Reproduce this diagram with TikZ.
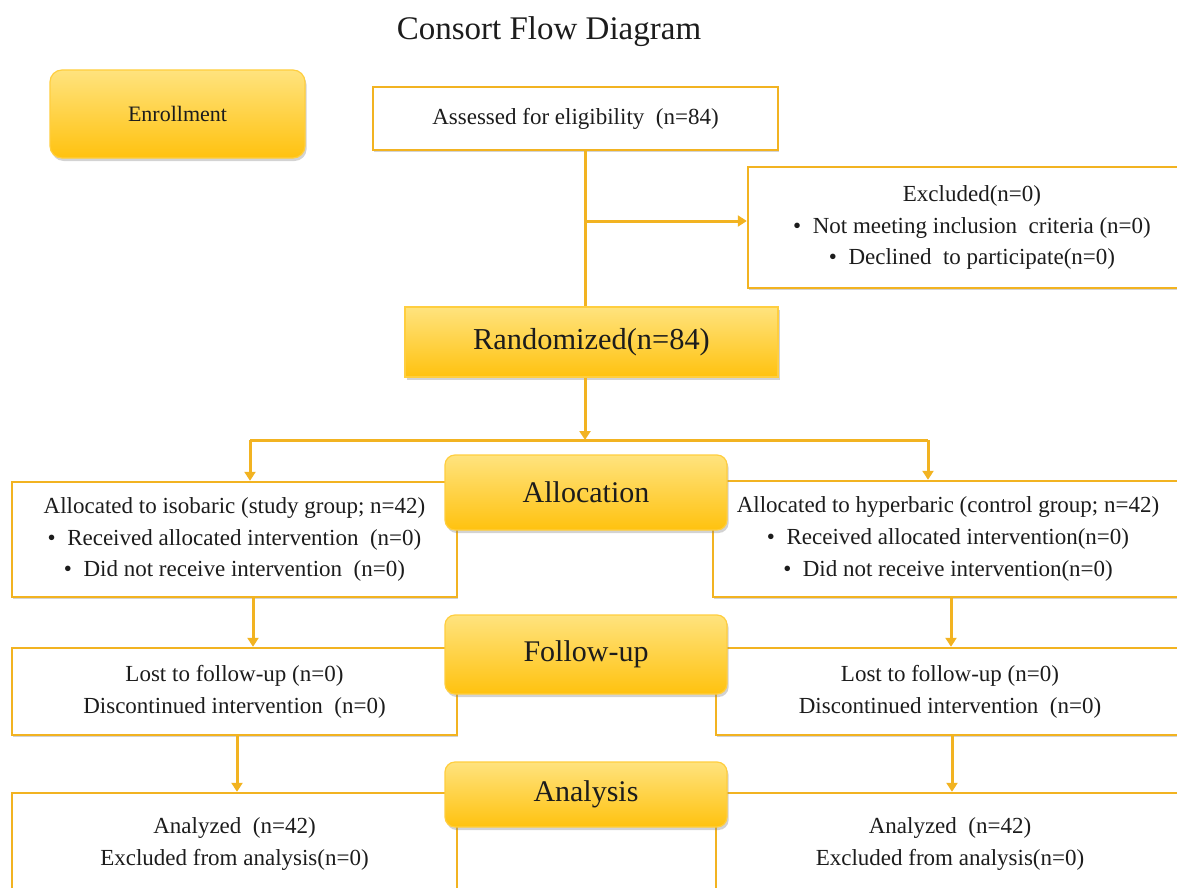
\documentclass[tikz,border=0pt]{standalone}
\usepackage{fontspec}
\setmainfont{Liberation Serif}
\usetikzlibrary{arrows.meta,shadows}

\definecolor{goldline}{HTML}{F2B321}
\definecolor{goldtop}{HTML}{FFE37E}
\definecolor{goldbot}{HTML}{FFC20F}
\definecolor{inktext}{HTML}{1C1C1C}

\begin{document}
\begin{tikzpicture}[x=0.5pt,y=-0.5pt,
    every node/.style={text=inktext},
    stage/.style={rounded corners=5pt, draw=goldbot!80!white, line width=0.6pt,
                  top color=goldtop, bottom color=goldbot,
                  drop shadow={shadow xshift=0.8pt, shadow yshift=-1.5pt, opacity=0.35},
                  font=\fontsize{15}{17}\selectfont, align=center},
    infobox/.style={draw=goldline, line width=1.2pt, fill=white,
                    drop shadow={shadow xshift=0.6pt, shadow yshift=-1.2pt, opacity=0.35},
                    font=\fontsize{11.5}{15.9}\selectfont, align=center},
    flow/.style={draw=goldline, line width=1.5pt},
    arr/.style={flow, -{Triangle[width=5.5pt,length=4.5pt]}}]

    % page frame
    \clip (0,0) rectangle (1177,888);

    % title
    \node (title) at (549,32) {\fontsize{16.5}{18}\selectfont Consort Flow Diagram};

    % enrollment
    \node[stage, rounded corners=6pt, minimum width=127.5pt, minimum height=44pt,
          font=\fontsize{11}{13}\selectfont] (enroll) at (177.5,114) {Enrollment};
    \node[infobox, minimum width=202.5pt, minimum height=31.5pt] (assess) at (575.5,118.5)
        {Assessed for eligibility~~(n=84)};
    \node[infobox, minimum width=224pt, minimum height=60.5pt] (excl) at (972,227.5)
        {Excluded(n=0)\\
         \textbullet~~Not meeting~inclusion~~criteria (n=0)\\
         \textbullet~~Declined~~to participate(n=0)};
    \node[stage, rounded corners=0pt, minimum width=186.5pt, minimum height=35pt,
          font=\fontsize{15.2}{17}\selectfont] (rand) at (591.5,342)
        {Randomized(n=84)};

    % branches of the trunk
    \coordinate (trunk) at (585,221);
    \coordinate (split) at (585,440);
    \coordinate (splitL) at (250,440);
    \coordinate (splitR) at (928,440);

    % allocation
    \node[infobox, minimum width=222.5pt, minimum height=57.5pt] (allocL) at (234.5,539.5)
        {Allocated to isobaric (study group; n=42)\\
         \textbullet~~Received allocated intervention~~(n=0)\\
         \textbullet~~Did not receive intervention~~(n=0)};
    \node[infobox, minimum width=235pt, minimum height=58pt] (allocR) at (948,539)
        {Allocated to hyperbaric (control group; n=42)\\
         \textbullet~~Received allocated intervention(n=0)\\
         \textbullet~~Did not receive~intervention(n=0)};
    \node[stage, minimum width=141pt, minimum height=37.5pt] (alloc) at (586,492.5) {Allocation};

    % follow-up
    \node[infobox, minimum width=222.5pt, minimum height=43.5pt] (followL) at (234.5,691.5)
        {Lost to follow-up (n=0)\\ Discontinued intervention~~(n=0)};
    \node[infobox, minimum width=234pt, minimum height=43.5pt] (followR) at (950,691.5)
        {Lost to follow-up (n=0)\\ Discontinued intervention~~(n=0)};
    \node[stage, minimum width=141pt, minimum height=39.5pt] (follow) at (586,654.5) {Follow-up};

    % analysis
    \node[infobox, minimum width=222.5pt, minimum height=51pt] (anaL) at (234.5,844)
        {Analyzed~~(n=42)\\ Excluded from analysis(n=0)};
    \node[infobox, minimum width=234pt, minimum height=51pt] (anaR) at (950,844)
        {Analyzed~~(n=42)\\ Excluded from analysis(n=0)};
    \node[stage, minimum width=141pt, minimum height=32.5pt] (analysis) at (586,794.5) {Analysis};

    % connectors
    \draw[flow] (assess.south -| trunk) -- (rand.north -| trunk);
    \draw[arr] (trunk) -- (excl.west |- trunk);
    \draw[arr] (rand.south -| trunk) -- (split);
    \draw[flow] (splitL) -- (splitR);
    \draw[arr] (splitL) -- (allocL.north -| splitL);
    \draw[arr] (splitR) -- (allocR.north -| splitR);
    \draw[arr] ([xshift=9.25pt]allocL.south) -- ([xshift=9.25pt]followL.north);
    \draw[arr] ([xshift=1.5pt]allocR.south) -- ([xshift=0.5pt]followR.north);
    \draw[arr] ([xshift=1.25pt]followL.south) -- ([xshift=1.25pt]anaL.north);
    \draw[arr] ([xshift=1pt]followR.south) -- ([xshift=1pt]anaR.north);

\end{tikzpicture}
\end{document}
